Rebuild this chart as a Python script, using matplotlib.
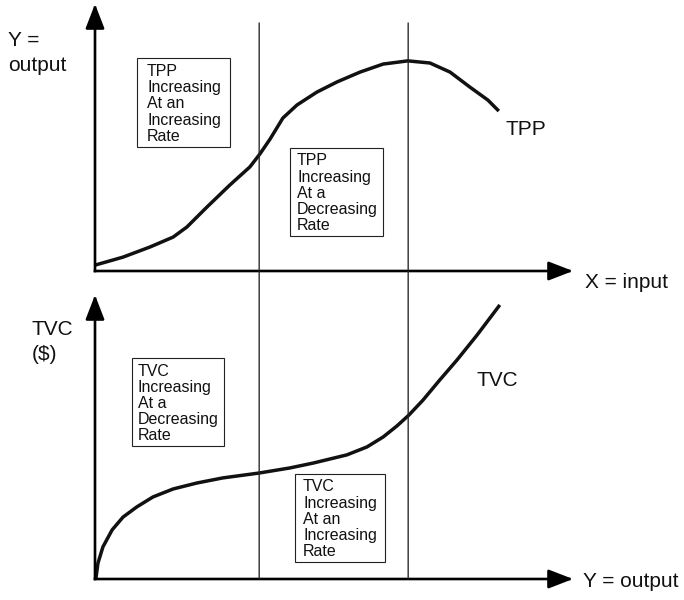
import matplotlib
matplotlib.use("Agg")
import matplotlib.pyplot as plt
from matplotlib.patches import Rectangle, ConnectionPatch

plt.rcParams['font.family'] = ['Liberation Sans', 'DejaVu Sans']

# input quantity (x) and total physical product
tpp_x = [0.00, 0.85, 1.67, 2.37, 2.79, 3.40, 4.09, 4.70, 5.00, 5.31, 5.70,
         6.13, 6.73, 7.34, 8.04, 8.74, 9.49, 10.16, 10.77, 11.37, 11.92, 12.25]
tpp_y = [0.22, 0.52, 0.90, 1.27, 1.65, 2.40, 3.22, 3.90, 4.38, 4.94, 5.73,
         6.22, 6.70, 7.08, 7.45, 7.75, 7.87, 7.79, 7.45, 6.89, 6.40, 5.99]

# output (x) and total variable cost
tvc_x = [0.00, 0.03, 0.09, 0.24, 0.52, 0.85, 1.27, 1.76, 2.37, 3.09, 3.88,
         4.97, 5.91, 6.61, 7.64, 8.25, 8.74, 9.16, 9.52, 9.95, 10.46, 10.98,
         11.59, 12.28]
tvc_y = [0.00, 0.04, 0.56, 1.13, 1.73, 2.18, 2.54, 2.89, 3.17, 3.38, 3.56,
         3.73, 3.91, 4.08, 4.37, 4.65, 5.00, 5.39, 5.77, 6.30, 7.01, 7.71,
         8.59, 9.65]

# stage boundaries (inflection point, maximum of TPP)
stage_x = [4.98, 9.50]

box_top = ["TPP\nIncreasing\nAt an\nIncreasing\nRate",
           "TPP\nIncreasing\nAt a\nDecreasing\nRate"]
box_bot = ["TVC\nIncreasing\nAt a\nDecreasing\nRate",
           "TVC\nIncreasing\nAt an\nIncreasing\nRate"]

W, H = 684, 600
fig = plt.figure(figsize=(W / 100, H / 100), dpi=100)
ax_top = fig.add_axes([95 / W, 1 - 271 / H, 478 / W, 267 / H])
ax_bot = fig.add_axes([95 / W, 1 - 579 / H, 478 / W, 284 / H])

arrow = dict(arrowstyle='-|>,head_length=1.5,head_width=0.58',
             mutation_scale=10, lw=1.9, color='black',
             shrinkA=0, shrinkB=0, capstyle='projecting')
for ax in (ax_top, ax_bot):
    ax.set_xlim(0, 14.5)
    ax.set_ylim(0, 10)
    ax.axis('off')
    ax.annotate('', xy=(14.5, 0), xytext=(0, 0), arrowprops=arrow,
                annotation_clip=False)
    ax.annotate('', xy=(0, 10), xytext=(0, 0), arrowprops=arrow,
                annotation_clip=False)

ax_top.plot(tpp_x, tpp_y, color='#111111', lw=2.5, solid_capstyle='butt',
            solid_joinstyle='round', clip_on=False)
ax_bot.plot(tvc_x, tvc_y, color='#111111', lw=2.5, solid_capstyle='butt',
            solid_joinstyle='round', clip_on=False)

for x in stage_x:
    con = ConnectionPatch(xyA=(x, 0), coordsA=ax_bot.transData,
                          xyB=(x, 9.29), coordsB=ax_top.transData,
                          color='#222222', lw=0.95)
    fig.add_artist(con)

# boxes: (left, bottom, width, height, text x)
boxes_top = [(1.27, 4.64, 2.82, 3.34, 1.58), (5.91, 1.31, 2.83, 3.30, 6.13)]
boxes_bot = [(1.12, 4.68, 2.79, 3.10, 1.30), (6.07, 0.60, 2.73, 3.10, 6.31)]
for ax, boxes, texts in ((ax_top, boxes_top, box_top), (ax_bot, boxes_bot, box_bot)):
    for (bx, by, bw, bh, tx), txt in zip(boxes, texts):
        ax.add_patch(Rectangle((bx, by), bw, bh, fill=False, ec='#222222',
                               lw=0.8, clip_on=False))
        ax.text(tx, by + bh / 2 - 0.05, txt, ha='left', va='center',
                fontsize=11.5, linespacing=1.10, color='#111111')


def fpos(x, y):
    return x / W, 1 - y / H


# (text, left px, baseline px of the last line)
labels = [("Y =\noutput", 8, 71), ("TPP", 505, 135), ("X = input", 585, 288),
          ("TVC\n($)", 32, 360), ("TVC", 477, 386), ("Y = output", 583, 587)]
for txt, x, y in labels:
    fx, fy = fpos(x, y)
    fig.text(fx, fy, txt, ha='left', va='baseline', fontsize=15,
             linespacing=1.37, color='#111111')

fig.savefig('out.png', dpi=100, facecolor='white')
